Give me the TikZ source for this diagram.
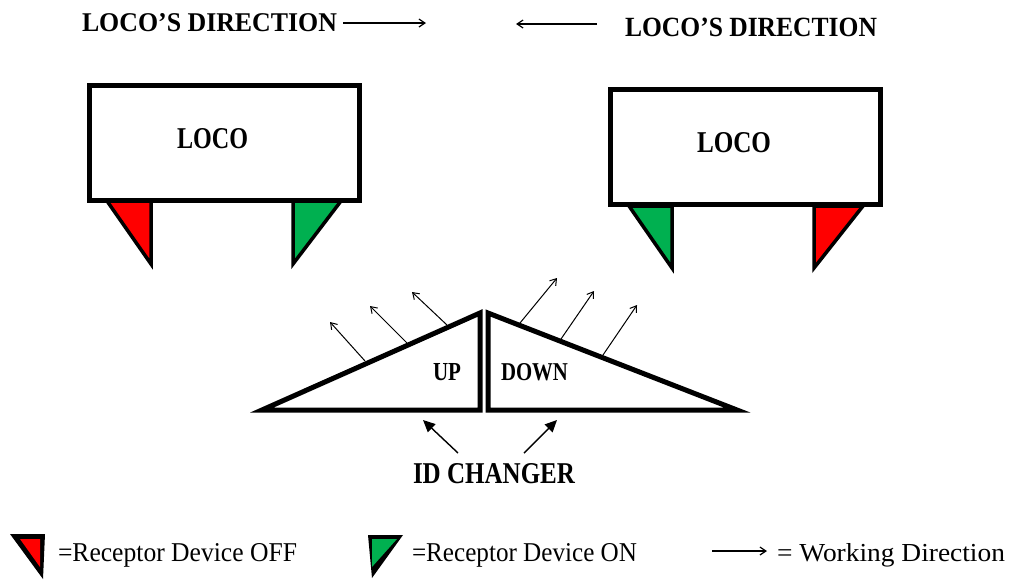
\documentclass[tikz,border=0pt]{standalone}
\usepackage{fontspec}
\usepackage{graphicx}
\setmainfont{Liberation Serif}
\usetikzlibrary{arrows.meta}
\definecolor{offred}{HTML}{FF0000}
\definecolor{ongreen}{HTML}{00B050}
\newcommand{\fitbox}[3]{\resizebox{#1pt}{#2pt}{#3}}
\tikzset{
  lbl/.style={anchor=base west, inner sep=0pt, outer sep=0pt},
  locobox/.style={draw=black, line width=5pt, fill=white, rectangle, inner sep=0pt},
  recep/.style={draw=black, line width=3.5pt, line join=miter, miter limit=20},
  wedge/.style={draw=black, line width=5pt, line join=miter, miter limit=20, fill=white},
  dirarrow/.style={line width=1.2pt, -{Straight Barb[length=6pt,width=8pt]}},
  workarrow/.style={line width=1pt, -{Straight Barb[length=6pt,width=8pt]}},
  idarrow/.style={line width=1.4pt, -{Triangle[length=12pt,width=11pt]}}
}
\begin{document}
\begin{tikzpicture}[x=1pt,y=-1pt]
\useasboundingbox (0,0) rectangle (1010,579);

% top direction labels
\node[lbl] (dirL) at (82,31) {\fitbox{255}{18}{\bfseries LOCO’S DIRECTION}};
\coordinate (aLs) at (343,23);
\coordinate (aLe) at (426,23);
\draw[dirarrow] (aLs) -- (aLe);
\coordinate (aRs) at (597,24);
\coordinate (aRe) at (516,24);
\draw[dirarrow] (aRs) -- (aRe);
\node[lbl] (dirR) at (625,36) {\fitbox{252}{18.5}{\bfseries LOCO’S DIRECTION}};

% loco boxes
\node[locobox, minimum width=270pt, minimum height=115pt] (loco1) at (224.5,143) {};
\node[lbl] (loco1t) at (177,148) {\fitbox{71}{20}{\bfseries LOCO}};
\node[locobox, minimum width=270pt, minimum height=115pt] (loco2) at (745.5,147) {};
\node[lbl] (loco2t) at (697,152) {\fitbox{74}{20}{\bfseries LOCO}};

% receptor devices on loco 1
\filldraw[recep, fill=offred] (107,201) -- (151,201) -- (151,264) -- cycle;
\filldraw[recep, fill=ongreen] (293,201) -- (341,201) -- (293,264) -- cycle;
% receptor devices on loco 2
\filldraw[recep, fill=ongreen] (629,206) -- (672,206) -- (672,268) -- cycle;
\filldraw[recep, fill=offred] (814,206) -- (863,206) -- (814,268) -- cycle;

% ID changer wedges
\filldraw[wedge] (262,410) -- (480,313) -- (480,410) -- cycle;
\filldraw[wedge] (488,313) -- (488,410) -- (737,410) -- cycle;
\node[lbl] (up) at (433,380) {\fitbox{28}{17}{\bfseries UP}};
\node[lbl] (down) at (501,380) {\fitbox{67}{17}{\bfseries DOWN}};

% working direction arrows on UP slope
\coordinate (u1s) at (365,361); \coordinate (u1e) at (330,322);
\coordinate (u2s) at (407,343); \coordinate (u2e) at (370,306);
\coordinate (u3s) at (447,325); \coordinate (u3e) at (412,292);
\draw[workarrow] (u1s) -- (u1e);
\draw[workarrow] (u2s) -- (u2e);
\draw[workarrow] (u3s) -- (u3e);
% working direction arrows on DOWN slope
\coordinate (d1s) at (520,323); \coordinate (d1e) at (557,278);
\coordinate (d2s) at (561,339); \coordinate (d2e) at (594,291);
\coordinate (d3s) at (603,355); \coordinate (d3e) at (637,305);
\draw[workarrow] (d1s) -- (d1e);
\draw[workarrow] (d2s) -- (d2e);
\draw[workarrow] (d3s) -- (d3e);

% ID changer label and arrows
\node[lbl] (idc) at (413,483) {\fitbox{162}{20}{\bfseries ID CHANGER}};
\coordinate (i1s) at (458,453); \coordinate (i1e) at (423,420);
\coordinate (i2s) at (524,453); \coordinate (i2e) at (557,420);
\draw[idarrow] (i1s) -- (i1e);
\draw[idarrow] (i2s) -- (i2e);

% legend
\fill[black] (10,534) -- (45,534) -- (43,579) -- cycle;
\fill[offred] (20,539) -- (40,539) -- (40,567) -- cycle;
\node[lbl] (legOff) at (58,561) {\fitbox{239}{18}{=Receptor Device OFF}};
\fill[black] (368,535) -- (403,535) -- (372,578) -- cycle;
\fill[ongreen] (372,539) -- (397,539) -- (372,567) -- cycle;
\node[lbl] (legOn) at (412,561) {\fitbox{225}{18}{=Receptor Device ON}};
\coordinate (wAs) at (712,551); \coordinate (wAe) at (767,551);
\draw[dirarrow] (wAs) -- (wAe);
\node[lbl] (legW) at (777,561) {\fitbox{228}{18}{= Working Direction}};
\end{tikzpicture}
\end{document}
